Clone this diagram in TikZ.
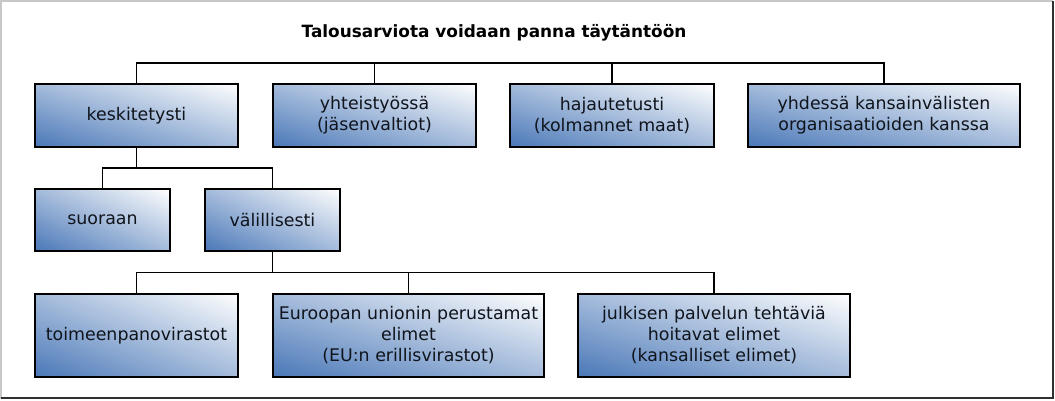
\documentclass[tikz,border=0pt]{standalone}
\usepackage{fontspec}
\setmainfont{DejaVu Sans}
\definecolor{boxdark}{HTML}{4A78B8}
\definecolor{txt}{HTML}{10141C}
\definecolor{framegray}{HTML}{C8C8C8}
\definecolor{framedark}{HTML}{303030}
% gradient fill of a box: centre x, centre y, width, height (picture units, y down)
\newcommand{\gradfill}[4]{%
  \begin{scope}[shift={(#1-#3/2,#2+#4/2)}, x={(#3pt,0pt)}, y={(0pt,#4pt)}]
    \clip (0,0) rectangle (1,1);
    \foreach \i in {0,...,59}{%
      \pgfmathsetmacro{\ca}{2*\i/60}%
      \pgfmathsetmacro{\cb}{2*(\i+1)/60+0.012}%
      \pgfmathsetmacro{\pc}{100*(1-(\i+0.5)/60)}%
      \fill[boxdark!\pc!white] (\ca,0) -- (\cb,0) -- (0,\cb) -- (0,\ca) -- cycle;
    }
  \end{scope}}
\begin{document}
\begin{tikzpicture}[x=1pt,y=-1pt,
  box/.style={draw=black, line width=1.2pt, align=center, inner sep=0pt, text=txt,
    font=\fontsize{17.4}{21}\selectfont, anchor=center},
  conn/.style={draw=black, line width=1.1pt},
  ttl/.style={font=\fontsize{16.9}{20}\selectfont\bfseries, text=black, inner sep=0pt}]
\useasboundingbox (0,0) rectangle (1055,400);
\fill[white] (0,0) rectangle (1055,400);
\draw[framegray, line width=2pt] (1,399) -- (1,1) -- (1053,1);
\draw[framedark, line width=1.5pt] (1053,1) -- (1053,398) -- (1,398);

\node[ttl] (title) at (494,33) {Talousarviota voidaan panna täytäntöön};

\gradfill{136.5}{115.5}{203}{63}
\node[box, minimum width=203pt, minimum height=63pt] (kes) at (136.5,115.5) {keskitetysti};
\gradfill{374.5}{115.5}{203}{63}
\node[box, minimum width=203pt, minimum height=63pt] (yht) at (374.5,115.5) {yhteistyössä\\(jäsenvaltiot)};
\gradfill{612}{115.5}{204}{63}
\node[box, minimum width=204pt, minimum height=63pt] (haj) at (612,115.5) {hajautetusti\\(kolmannet maat)};
\gradfill{884}{115.5}{272}{63}
\node[box, minimum width=272pt, minimum height=63pt] (yhd) at (884,115.5) {yhdessä kansainvälisten\\organisaatioiden kanssa};

\gradfill{102.5}{220}{135}{62}
\node[box, minimum width=135pt, minimum height=62pt] (suo) at (102.5,220) {suoraan};
\gradfill{272.5}{220}{135}{62}
\node[box, minimum width=135pt, minimum height=62pt] (val) at (272.5,220) {välillisesti};

\gradfill{136.5}{335.5}{203}{83}
\node[box, minimum width=203pt, minimum height=83pt] (toi) at (136.5,335.5) {toimeenpanovirastot};
\gradfill{408.5}{335.5}{271}{83}
\node[box, minimum width=271pt, minimum height=83pt] (eur) at (408.5,335.5) {Euroopan unionin perustamat\\elimet\\(EU:n erillisvirastot)};
\gradfill{714}{335.5}{272}{83}
\node[box, minimum width=272pt, minimum height=83pt] (jul) at (714,335.5) {julkisen palvelun tehtäviä\\hoitavat elimet\\(kansalliset elimet)};

\coordinate (b1) at (0,63);
\coordinate (b2) at (0,168);
\coordinate (b3) at (0,272.5);

\draw[conn] (kes.north) -- (kes.north |- b1) -- (yhd.north |- b1) -- (yhd.north);
\draw[conn] (yht.north) -- (yht.north |- b1);
\draw[conn] (haj.north) -- (haj.north |- b1);

\draw[conn] (kes.south) -- (kes.south |- b2);
\draw[conn] (suo.north) -- (suo.north |- b2) -- (val.north |- b2) -- (val.north);

\draw[conn] (val.south) -- (val.south |- b3);
\draw[conn] (toi.north) -- (toi.north |- b3) -- (jul.north |- b3) -- (jul.north);
\draw[conn] (eur.north) -- (eur.north |- b3);
\end{tikzpicture}
\end{document}
